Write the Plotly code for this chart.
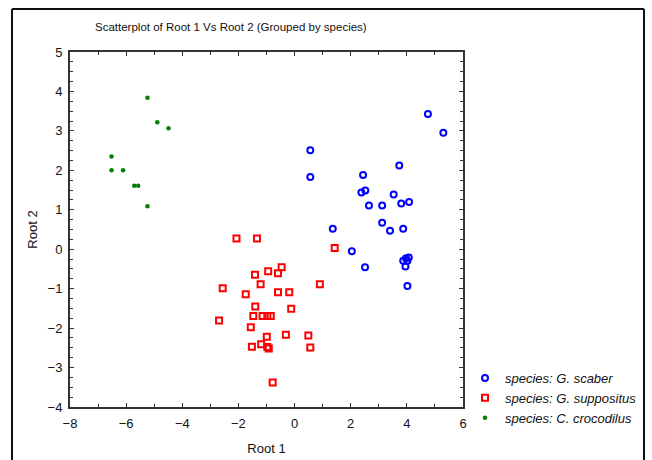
import plotly.graph_objects as go

# Data
scaber_x = [0.56, 0.56, 4.75, 5.30, 3.73, 2.44, 2.38, 2.52, 3.53, 2.65, 3.12, 3.80, 4.08,
            3.12, 3.40, 3.87, 1.36, 2.04, 2.51, 3.97, 4.07, 3.87, 4.02, 3.95, 4.02]
scaber_y = [2.51, 1.83, 3.43, 2.95, 2.12, 1.88, 1.44, 1.49, 1.39, 1.11, 1.11, 1.16, 1.20,
            0.67, 0.47, 0.52, 0.52, -0.05, -0.46, -0.23, -0.21, -0.29, -0.29, -0.44, -0.93]

suppositus_x = [-2.07, -1.34, 1.43, -0.46, -0.94, -0.59, -1.41, -1.21, 0.90, -2.56, -0.59, -0.19,
                -1.74, -1.40, -0.12, -2.69, -1.47, -1.14, -0.97, -0.85, -1.56, -0.99, -0.31, 0.49,
                -1.52, -1.19, -0.97, -0.92, 0.56, -0.78]
suppositus_y = [0.27, 0.27, 0.03, -0.46, -0.56, -0.61, -0.65, -0.89, -0.89, -0.99, -1.09, -1.09,
                -1.14, -1.45, -1.51, -1.81, -1.69, -1.69, -1.69, -1.69, -1.98, -2.22, -2.17, -2.19,
                -2.47, -2.41, -2.48, -2.52, -2.49, -3.38]

crocodilus_x = [-5.24, -4.89, -4.49, -6.52, -6.52, -6.11, -5.71, -5.57, -5.24]
crocodilus_y = [3.84, 3.22, 3.07, 2.35, 2.00, 2.00, 1.61, 1.61, 1.09]

series_names = ["species: G. scaber", "species: G. suppositus", "species: C. crocodilus"]

FONT = "Liberation Sans, Arial, sans-serif"
TXT = "#111"

fig = go.Figure()
fig.add_trace(go.Scatter(
    x=scaber_x, y=scaber_y, mode="markers", name=series_names[0],
    marker=dict(symbol="circle-open", size=6, color="#0000FF", line=dict(width=2, color="#0000FF")),
))
fig.add_trace(go.Scatter(
    x=suppositus_x, y=suppositus_y, mode="markers", name=series_names[1],
    marker=dict(symbol="square-open", size=6, color="#FF0000", line=dict(width=2, color="#FF0000")),
))
fig.add_trace(go.Scatter(
    x=crocodilus_x, y=crocodilus_y, mode="markers", name=series_names[2],
    marker=dict(symbol="circle", size=4.5, color="#008000", line=dict(width=0)),
))

L, R, T, B = 70, 189, 52, 53
W, H = 652, 460
pw, ph = W - L - R, H - T - B

def px_to_paper_x(p):
    return (p - L) / pw

def px_to_paper_y(p):
    return (H - B - p) / ph

fig.update_layout(
    width=W, height=H,
    margin=dict(l=L, r=R, t=T, b=B, autoexpand=False),
    paper_bgcolor="white", plot_bgcolor="white",
    font=dict(family=FONT, size=13, color=TXT),
    title=dict(text="Scatterplot of Root 1 Vs Root 2 (Grouped by species)",
               x=px_to_paper_x(95), xref="paper", xanchor="left",
               y=1 - 27 / H, yref="container", yanchor="middle",
               font=dict(family=FONT, size=11.5, color=TXT)),
    showlegend=True,
    legend=dict(x=px_to_paper_x(465), y=px_to_paper_y(363), xanchor="left", yanchor="top",
                font=dict(family=FONT, size=13, color=TXT, style="italic"),
                bgcolor="rgba(0,0,0,0)", borderwidth=0, tracegroupgap=0,
                itemwidth=30),
    xaxis=dict(range=[-8, 6], dtick=2, tick0=0, showgrid=False, zeroline=False,
               ticks="inside", ticklen=4, tickwidth=1, tickcolor="#333",
               minor=dict(dtick=1, ticks="inside", ticklen=3, tickcolor="#333", showgrid=False),
               showline=True, linecolor="#333", linewidth=2, mirror="ticks",
               ticklabelstandoff=3,
               tickfont=dict(family=FONT, size=13, color=TXT),
               title=dict(text="Root 1", standoff=14, font=dict(family=FONT, size=13, color=TXT))),
    yaxis=dict(range=[-4, 5], dtick=1, tick0=0, showgrid=False, zeroline=False,
               ticks="inside", ticklen=4, tickwidth=1, tickcolor="#333",
               minor=dict(dtick=0.25, ticks="inside", ticklen=3, tickcolor="#333", showgrid=False),
               showline=True, linecolor="#333", linewidth=2, mirror="ticks",
               ticklabelstandoff=3,
               tickfont=dict(family=FONT, size=13, color=TXT),
               title=dict(text="Root 2", standoff=7, font=dict(family=FONT, size=13, color=TXT))),
)

# outer frame around the figure (left, top, right edges; bottom lies outside the view)
fx0, fx1 = px_to_paper_x(12), px_to_paper_x(644)
fy_top, fy_bot = px_to_paper_y(9), px_to_paper_y(470)
frame = dict(color="#111", width=2)
fig.add_shape(type="line", xref="paper", yref="paper", x0=fx0, x1=fx0, y0=fy_bot, y1=fy_top, line=frame)
fig.add_shape(type="line", xref="paper", yref="paper", x0=fx0, x1=fx1, y0=fy_top, y1=fy_top, line=frame)
fig.add_shape(type="line", xref="paper", yref="paper", x0=fx1, x1=fx1, y0=fy_bot, y1=fy_top, line=frame)

fig.write_html(
    "out.html", config={"displayModeBar": False},
    post_script=("document.body.style.margin='0';"
                 "document.body.style.overflow='hidden';"
                 "document.documentElement.style.overflow='hidden';"))
